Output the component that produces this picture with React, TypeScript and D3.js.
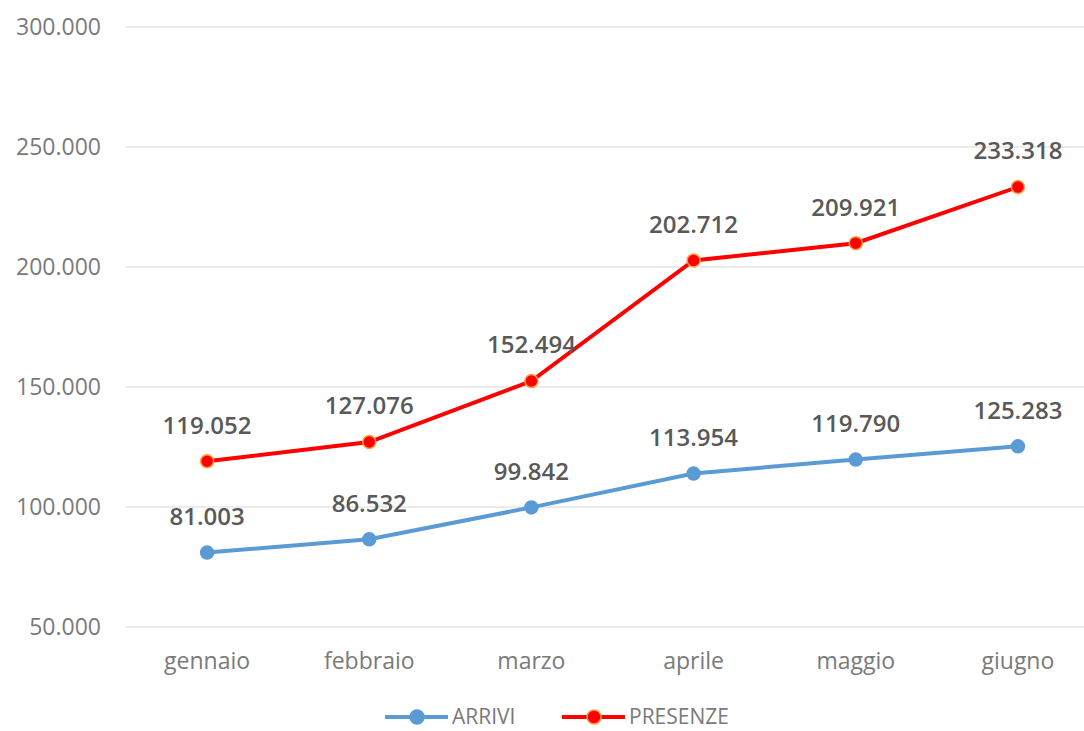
import React, { useEffect, useRef } from 'react';
import * as d3 from 'd3';

const months = ['gennaio', 'febbraio', 'marzo', 'aprile', 'maggio', 'giugno'];
const arrivi = [81003, 86532, 99842, 113954, 119790, 125283];
const presenze = [119052, 127076, 152494, 202712, 209921, 233318];
const yTicks = [50000, 100000, 150000, 200000, 250000, 300000];

const fmt = (v: number) => d3.format(',')(v).replace(/,/g, '.');

export default function App() {
    const ref = useRef<SVGSVGElement>(null);

    useEffect(() => {
        drawChart();
        // eslint-disable-next-line
    }, []);

    function drawChart() {
        const width = 1084;
        const height = 731;
        const svg = d3.select(ref.current);
        svg.selectAll('*').remove();

        const x = d3.scaleBand().domain(months).range([126, 1099]);
        const y = d3.scaleLinear().domain([50000, 300000]).range([627, 27]);
        const cx = (m: string) => (x(m) as number) + x.bandwidth() / 2;

        // gridlines
        svg.append('g')
            .selectAll('line')
            .data(yTicks)
            .enter()
            .append('line')
            .attr('x1', 126)
            .attr('x2', width)
            .attr('y1', (d) => y(d))
            .attr('y2', (d) => y(d))
            .attr('stroke', '#e6e6e6')
            .attr('stroke-width', 1.5);

        // y labels
        svg.append('g')
            .selectAll('text')
            .data(yTicks)
            .enter()
            .append('text')
            .attr('x', 101)
            .attr('y', (d) => y(d))
            .attr('dy', '0.35em')
            .attr('text-anchor', 'end')
            .attr('font-family', 'Open Sans, sans-serif')
            .attr('font-size', 23)
            .attr('fill', '#7a7a7a')
            .text((d) => fmt(d));

        // x labels
        svg.append('g')
            .selectAll('text')
            .data(months)
            .enter()
            .append('text')
            .attr('x', (d) => cx(d))
            .attr('y', 661)
            .attr('dy', '0.35em')
            .attr('text-anchor', 'middle')
            .attr('font-family', 'Open Sans, sans-serif')
            .attr('font-size', 23)
            .attr('fill', '#7a7a7a')
            .text((d) => d);

        const series = [
            { name: 'ARRIVI', values: arrivi, color: '#5b9bd5', stroke: '#5b9bd5' },
            { name: 'PRESENZE', values: presenze, color: '#ff0000', stroke: '#ffa040' },
        ];

        const line = d3
            .line<number>()
            .x((d, i) => cx(months[i]))
            .y((d) => y(d));

        series.forEach((s) => {
            const g = svg.append('g');
            g.append('path')
                .attr('fill', 'none')
                .attr('stroke', s.color)
                .attr('stroke-width', 4)
                .attr('d', line(s.values));
            g.selectAll('circle')
                .data(s.values)
                .enter()
                .append('circle')
                .attr('cx', (d, i) => cx(months[i]))
                .attr('cy', (d) => y(d))
                .attr('r', 6.5)
                .attr('fill', s.color)
                .attr('stroke', s.stroke)
                .attr('stroke-width', 1.5);
            g.selectAll('text')
                .data(s.values)
                .enter()
                .append('text')
                .attr('x', (d, i) => cx(months[i]))
                .attr('y', (d) => y(d) - 36)
                .attr('dy', '0.35em')
                .attr('text-anchor', 'middle')
                .attr('font-family', 'Open Sans, sans-serif')
                .attr('font-weight', 600)
                .attr('font-size', 24)
                .attr('fill', '#595959')
                .text((d) => fmt(d));
        });

        // legend
        const legendX = [385, 562];
        series.forEach((s, i) => {
            const lg = svg.append('g').attr('transform', `translate(${legendX[i]},717)`);
            lg.append('line')
                .attr('x1', 0)
                .attr('x2', 63)
                .attr('stroke', s.color)
                .attr('stroke-width', 4);
            lg.append('circle')
                .attr('cx', 32)
                .attr('r', 7)
                .attr('fill', s.color)
                .attr('stroke', s.stroke)
                .attr('stroke-width', 1.5);
            lg.append('text')
                .attr('x', 67)
                .attr('dy', '0.35em')
                .attr('font-family', 'Open Sans, sans-serif')
                .attr('font-size', 21)
                .attr('fill', '#7a7a7a')
                .text(s.name);
        });

        svg.attr('width', width).attr('height', height);
    }

    return (
        <svg
            ref={ref}
            width={1084}
            height={731}
            style={{ position: 'absolute', left: 0, top: 0, background: '#fff' }}
        />
    );
}
